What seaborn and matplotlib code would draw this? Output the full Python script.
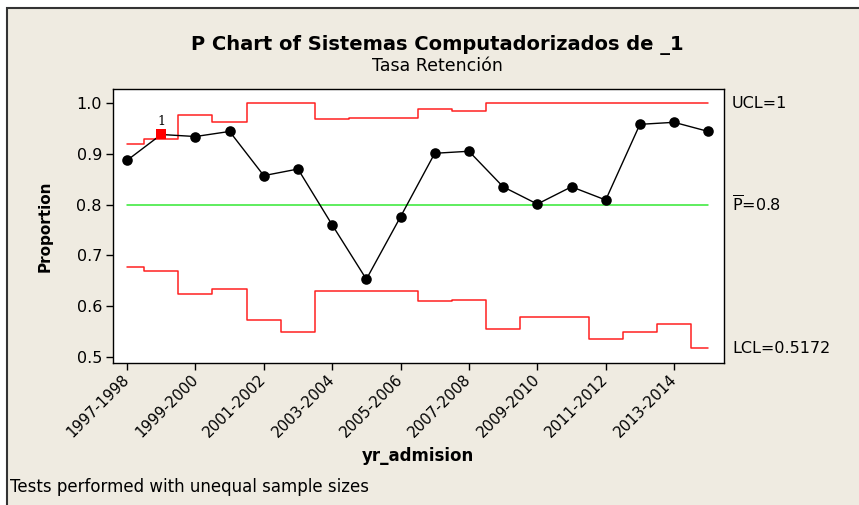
import matplotlib
matplotlib.use("Agg")
import numpy as np
import pandas as pd
import matplotlib.pyplot as plt
import seaborn as sns
from matplotlib.patches import Rectangle

# yr_admision categories (one per sample)
years = ["1997-1998", "1998-1999", "1999-2000", "2000-2001", "2001-2002", "2002-2003",
         "2003-2004", "2004-2005", "2005-2006", "2006-2007", "2007-2008", "2008-2009",
         "2009-2010", "2010-2011", "2011-2012", "2012-2013", "2013-2014", "2014-2015"]
# observed proportion (tasa de retencion)
proportion = [0.887, 0.938, 0.934, 0.944, 0.857, 0.870, 0.760, 0.653, 0.776,
              0.901, 0.905, 0.835, 0.801, 0.835, 0.809, 0.958, 0.962, 0.944]
# control limits (unequal sample sizes -> stepped limits)
ucl = [0.920, 0.930, 0.976, 0.963, 1.000, 1.000, 0.968, 0.971, 0.971,
       0.989, 0.984, 1.000, 1.000, 1.000, 1.000, 1.000, 1.000, 1.000]
lcl = [0.677, 0.669, 0.623, 0.633, 0.572, 0.549, 0.629, 0.629, 0.629,
       0.610, 0.613, 0.555, 0.579, 0.579, 0.536, 0.549, 0.564, 0.5172]
p_bar = 0.8
y_ticks = [0.5, 0.6, 0.7, 0.8, 0.9, 1.0]

df = pd.DataFrame({"idx": np.arange(len(years)), "year": years, "p": proportion,
                   "ucl": ucl, "lcl": lcl})
df["center"] = p_bar
df["flag"] = (df["p"] > df["ucl"]) | (df["p"] < df["lcl"])

sns.set_theme(style="white")
plt.rcParams["font.family"] = ["DejaVu Sans"]
plt.rcParams["mathtext.fontset"] = "dejavusans"
for k in ["text.color", "axes.labelcolor", "xtick.color", "ytick.color"]:
    plt.rcParams[k] = "black"

beige = "#EFEBE1"
fig = plt.figure(figsize=(8.59, 5.05), dpi=100, facecolor="white")
fig.patches.append(Rectangle((7 / 859, -0.05), 1.2, 1 - 8 / 505 + 0.05,
                             transform=fig.transFigure, facecolor=beige,
                             edgecolor="#333333", linewidth=1.5, zorder=-10))
ax = fig.add_axes([113 / 859, 1 - 363 / 505, 611 / 859, 274 / 505])
ax.set_facecolor("white")

# limits and center line
sns.lineplot(data=df, x="idx", y="ucl", color="#FF2020", lw=1.1,
             drawstyle="steps-mid", ax=ax)
sns.lineplot(data=df, x="idx", y="lcl", color="#FF2020", lw=1.1,
             drawstyle="steps-mid", ax=ax)
sns.lineplot(data=df, x="idx", y="center", color="#33E833", lw=1.1, ax=ax)

# proportion series
sns.lineplot(data=df, x="idx", y="p", color="black", lw=1.0, ax=ax)
ok = df[~df["flag"]]
bad = df[df["flag"]]
sns.scatterplot(data=ok, x="idx", y="p", color="black", marker="o", s=58,
                edgecolor="black", linewidth=0, ax=ax, zorder=5)
sns.scatterplot(data=bad, x="idx", y="p", color="#FF0000", marker="s", s=60,
                edgecolor="#FF0000", linewidth=0, ax=ax, zorder=5)
for _, r in bad.iterrows():
    ax.text(r["idx"], r["p"] + 0.012, "1", ha="center", va="bottom",
            fontsize=9, family="DejaVu Serif", color="black")

ax.set_xlim(-0.41, 17.46)
ax.set_ylim(0.488, 1.0276)
ax.set_yticks(y_ticks)
ax.set_yticklabels([f"{v:.1f}" for v in y_ticks], fontsize=11.5)
ax.set_xticks(df["idx"][::2])
ax.set_xticklabels(df["year"][::2], rotation=45, ha="right", va="center",
                   rotation_mode="anchor", fontsize=10.8)
ax.tick_params(axis="both", direction="out", length=5, width=1, color="black",
               bottom=True, left=True, pad=3)
ax.tick_params(axis="x", pad=5)
for s in ax.spines.values():
    s.set_color("black")
    s.set_linewidth(1.0)

ax.set_ylabel("Proportion", fontsize=11, fontweight="bold")
ax.yaxis.set_label_coords(-0.098, 0.5)
ax.set_xlabel("yr_admision", fontsize=12, fontweight="bold")
ax.xaxis.label.set_va("center")
ax.xaxis.set_label_coords(0.499, -0.339)

lab_x = (732 - 113) / 611
ax.annotate(f"UCL={ucl[-1]:g}", xy=(lab_x, ucl[-1]), xycoords=("axes fraction", "data"),
            ha="left", va="center", fontsize=11.5, annotation_clip=False)
ax.annotate(r"$\overline{\mathrm{P}}$" + f"={p_bar:g}", xy=(lab_x, p_bar),
            xycoords=("axes fraction", "data"), ha="left", va="center",
            fontsize=11.5, annotation_clip=False)
ax.annotate(f"LCL={lcl[-1]:g}", xy=(lab_x, lcl[-1]), xycoords=("axes fraction", "data"),
            ha="left", va="center", fontsize=11.5, annotation_clip=False)

fig.text(437 / 859, 1 - 45 / 505, "P Chart of Sistemas Computadorizados de _1",
         ha="center", va="center", fontsize=14, fontweight="bold")
fig.text(437 / 859, 1 - 66 / 505, "Tasa Retención", ha="center", va="center",
         fontsize=12.5)
fig.text(10 / 859, 1 - 487 / 505, "Tests performed with unequal sample sizes",
         ha="left", va="center", fontsize=12)

fig.savefig("out.png", dpi=100, facecolor=fig.get_facecolor())
